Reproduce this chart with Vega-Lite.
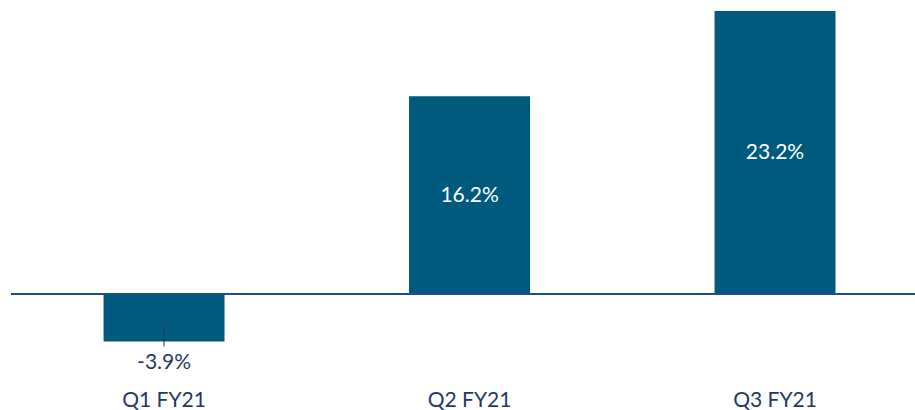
{
  "$schema": "https://vega.github.io/schema/vega-lite/v6.json",
  "width": 904,
  "height": 380,
  "autosize": {"type": "none"},
  "padding": {"left": 11, "top": 0, "right": 0, "bottom": 30},
  "background": "white",
  "config": {"view": {"stroke": null}, "font": "Lato"},
  "data": {"values": [
    {"quarter": "Q1 FY21", "value": -3.9},
    {"quarter": "Q2 FY21", "value": 16.2},
    {"quarter": "Q3 FY21", "value": 23.2}
  ]},
  "encoding": {
    "x": {
      "field": "quarter", "type": "nominal", "sort": null, "title": null,
      "scale": {"paddingInner": 0.604, "paddingOuter": 0.2816, "align": 0.538},
      "axis": {"domain": false, "ticks": false, "labelAngle": 0, "labelFontSize": 21, "labelColor": "#1F3864", "labelPadding": 9, "labelFont": "Lato", "labelBaseline": "top", "grid": false}
    }
  },
  "layer": [
    {
      "mark": {"type": "bar", "color": "#005A7E"},
      "encoding": {
        "y": {"field": "value", "type": "quantitative", "scale": {"domain": [-7.05, 24.1], "nice": false, "zero": false}, "axis": null}
      }
    },
    {
      "mark": {"type": "rule", "color": "#1F4E8C", "strokeWidth": 2},
      "encoding": {"y": {"datum": 0, "type": "quantitative"}, "x": {"value": 0}, "x2": {"value": 904}}
    },
    {
      "transform": [{"filter": "datum.value < 0"}],
      "mark": {"type": "rule", "color": "#1F3864", "strokeWidth": 1},
      "encoding": {"y": {"datum": -2.62, "type": "quantitative"}, "y2": {"datum": -4.3}}
    },
    {
      "transform": [{"filter": "datum.value > 0"}, {"calculate": "datum.value / 2", "as": "mid"}, {"calculate": "format(datum.value, '.1f') + '%'", "as": "label"}],
      "mark": {"type": "text", "color": "white", "fontSize": 21, "baseline": "middle", "align": "center", "dy": 1},
      "encoding": {"y": {"field": "mid", "type": "quantitative"}, "text": {"field": "label"}}
    },
    {
      "transform": [{"filter": "datum.value < 0"}, {"calculate": "'-' + format(abs(datum.value), '.1f') + '%'", "as": "label"}],
      "mark": {"type": "text", "color": "#1F3864", "fontSize": 21, "baseline": "middle", "align": "center", "dy": 21},
      "encoding": {"y": {"field": "value", "type": "quantitative"}, "text": {"field": "label"}}
    }
  ]
}
